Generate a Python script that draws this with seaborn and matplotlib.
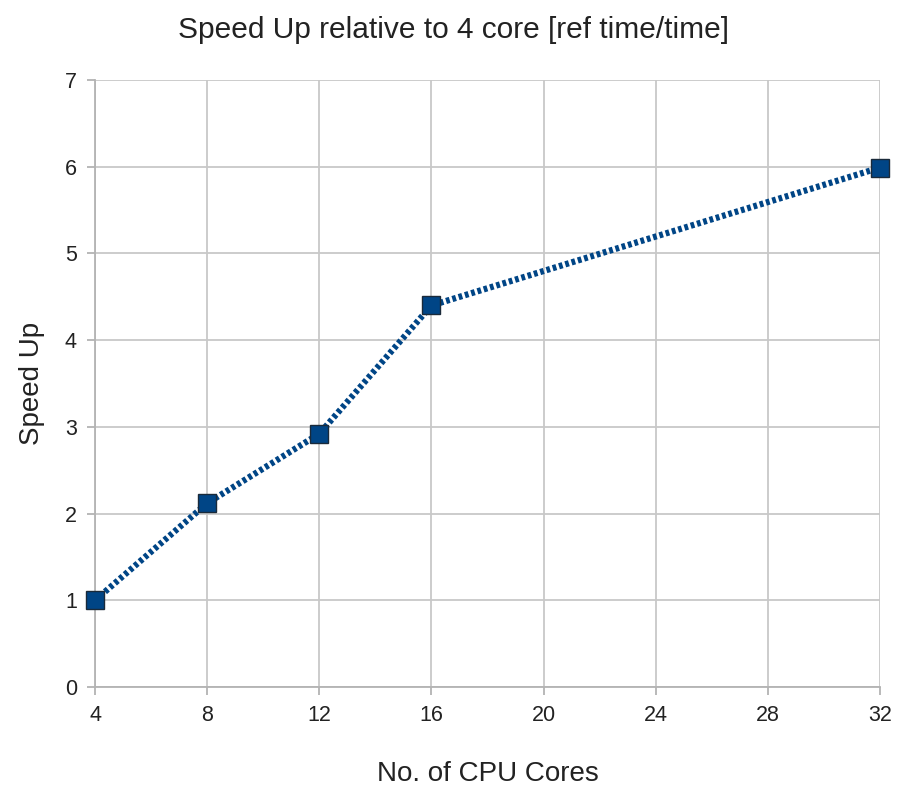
import matplotlib
matplotlib.use("Agg")
import matplotlib.pyplot as plt
import seaborn as sns
import pandas as pd

# data
cores = [4, 8, 12, 16, 32]
speedup = [1.0, 2.12, 2.92, 4.4, 5.99]
x_ticks = [4, 8, 12, 16, 20, 24, 28, 32]
y_ticks = [0, 1, 2, 3, 4, 5, 6, 7]

sns.set_theme(style="whitegrid")
plt.rcParams['font.family'] = ['Liberation Sans', 'DejaVu Sans']

df = pd.DataFrame({"cores": cores, "speedup": speedup})

fig = plt.figure(figsize=(9.06, 7.97), dpi=100)
ax = fig.add_axes([0.1049, 0.138, 0.8664, 0.7616])

sns.lineplot(data=df, x="cores", y="speedup", ax=ax, color="#004586",
             linewidth=4.5, linestyle=(0, (0.6, 0.45)), marker="s",
             markersize=13, markerfacecolor="#004586",
             markeredgecolor="#1a2a3a", markeredgewidth=1.0, clip_on=False,
             zorder=5)

ax.set_xlim(4, 32)
ax.set_ylim(0, 7)
ax.set_xticks(x_ticks)
ax.set_yticks(y_ticks)
ax.grid(True, color="#c8c8c8", linewidth=1.3)
for s in ax.spines.values():
    s.set_visible(False)
ax.spines['left'].set_visible(True)
ax.spines['bottom'].set_visible(True)
ax.spines['left'].set_color("#b3b3b3")
ax.spines['bottom'].set_color("#b3b3b3")
ax.spines['left'].set_linewidth(1.3)
ax.spines['bottom'].set_linewidth(1.3)
ax.tick_params(axis='both', which='major', length=6, width=1.3, color="#b3b3b3",
               labelsize=15.5, labelcolor="#222222", pad=7, bottom=True, left=True)

ax.set_xlabel("No. of CPU Cores", fontsize=20, labelpad=25, color="#222222")
ax.set_ylabel("Speed Up", fontsize=20, labelpad=14, color="#222222")
fig.suptitle("Speed Up relative to 4 core [ref time/time]", fontsize=21.5,
             y=0.98, color="#222222")

fig.savefig("out.png", dpi=100)
